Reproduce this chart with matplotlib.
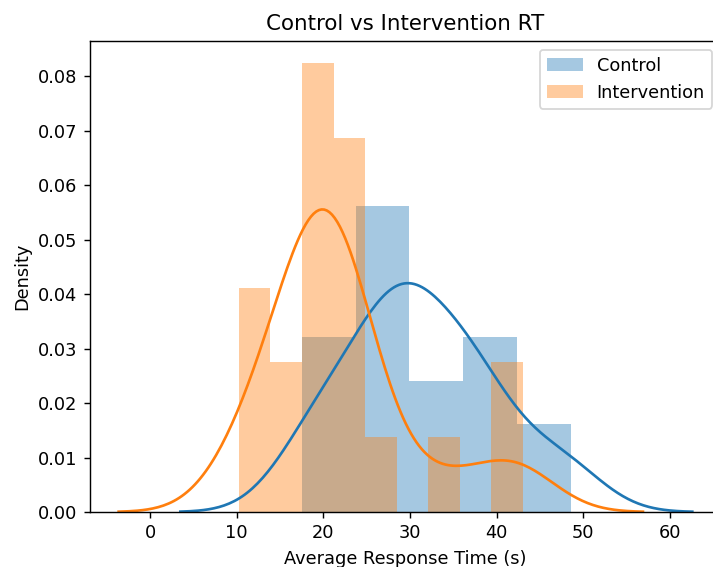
import numpy as np
import matplotlib
matplotlib.use("Agg")
import matplotlib.pyplot as plt

# Raw sample values (read to reproduce histogram bins and KDE shape)
control = [17.5, 19.0, 21.0, 22.8,
           25.2, 26.8, 28.0, 28.7, 29.2, 29.5, 29.75,
           31.5, 34.0, 35.8,
           36.4, 37.2, 38.6, 41.0,
           46.5, 48.6]
intervention = [10.26, 12.6, 13.6,
                16.3, 17.2,
                18.0, 18.7, 19.3, 19.8, 20.3, 20.9,
                21.3, 21.7, 22.2, 22.9, 23.9,
                26.3,
                33.6,
                40.8, 43.02]
labels = ["Control", "Intervention"]
bin_counts = [5, 9]
colors = ["#1f77b4", "#ff7f0e"]


def kde_curve(data, gridsize=200, cut=3):
    x = np.asarray(data, float)
    n = len(x)
    bw = x.std(ddof=1) * n ** (-1 / 5)
    grid = np.linspace(x.min() - cut * bw, x.max() + cut * bw, gridsize)
    dens = np.exp(-0.5 * ((grid[:, None] - x[None, :]) / bw) ** 2).sum(1)
    dens /= n * bw * np.sqrt(2 * np.pi)
    return grid, dens


DPI = 128
fig = plt.figure(figsize=(713 / DPI, 567 / DPI), dpi=DPI)
ax = fig.add_axes([0.1262, 0.097, 0.885, 0.831])

for data, lab, nb, col in zip([control, intervention], labels, bin_counts, colors):
    ax.hist(data, bins=nb, density=True, color=col, alpha=0.4, label=lab)
    g, d = kde_curve(data)
    ax.plot(g, d, color=col, lw=1.5)

ax.set_title("Control vs Intervention RT", fontsize=12)
ax.set_xlabel("Average Response Time (s)")
ax.set_ylabel("Density")
ax.legend(loc="upper right")

fig.savefig("out.png", dpi=DPI)
